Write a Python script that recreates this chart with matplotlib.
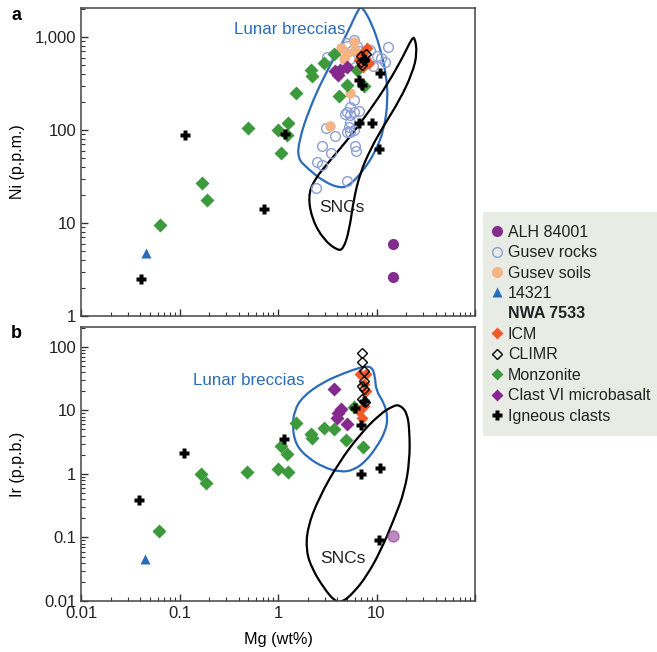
import numpy as np
import matplotlib
matplotlib.use("Agg")
import matplotlib.pyplot as plt
from matplotlib.path import Path
from matplotlib.patches import PathPatch
from matplotlib.lines import Line2D
from matplotlib.ticker import FixedLocator, FixedFormatter, LogLocator, NullFormatter

plt.rcParams['font.family'] = ['Liberation Sans', 'DejaVu Sans']
plt.rcParams['font.size'] = 10

# ---------------- panel a: Ni (p.p.m.) vs Mg (wt%) ----------------
alh_mg_a = [14.8, 14.8]
alh_ni_a = [5.9, 2.6]

rocks_mg_a = [5.9, 5.0, 6.3, 8.6, 10.0, 13.1, 12.2, 9.3, 3.15, 5.4, 5.85, 5.4, 5.0, 5.85, 6.6,
              5.4, 4.8, 5.2, 5.4, 5.0, 3.04, 3.83, 2.81, 3.46, 2.5, 2.81, 2.45, 5.0, 6.07, 6.2,
              5.9, 5.4, 4.5, 7.5, 11.0, 6.8, 4.9]
rocks_ni_a = [930, 800, 800, 720, 630, 787, 543, 490, 615, 575, 210, 178, 157, 157, 162,
              145, 150, 108, 96, 96, 104, 86, 68, 57, 45, 42, 24, 28, 68, 60,
              100, 123, 700, 640, 600, 700, 870]

soils_mg_a = [5.85, 5.0, 5.4, 3.4, 4.7, 6.0, 4.4]
soils_ni_a = [890, 667, 248, 110, 580, 700, 760]

t14321_mg_a = [0.046]
t14321_ni_a = [4.8]

icm_mg_a = [8.0, 7.1, 8.3, 6.6, 7.3, 7.6]
icm_ni_a = [755, 660, 520, 565, 480, 600]

climr_mg_a = [7.0, 7.4, 7.8, 7.2, 6.9]
climr_ni_a = [620, 560, 650, 500, 540]

monz_mg_a = [0.063, 0.168, 0.19, 0.50, 1.0, 1.07, 1.25, 1.23, 1.52, 2.15, 2.23, 2.92, 3.68,
             4.13, 5.0, 7.5, 6.3]
monz_ni_a = [9.5, 27, 17.7, 106, 100, 56, 120, 88, 248, 442, 380, 530, 652,
             232, 305, 295, 440]

clast_mg_a = [3.8, 4.3, 5.0, 4.1]
clast_ni_a = [430, 440, 480, 390]

ign_mg_a = [0.041, 0.115, 0.72, 1.18, 10.8, 6.6, 9.1, 10.7, 6.7, 7.1, 7.4]
ign_ni_a = [2.5, 88, 14, 90, 408, 118, 120, 62, 347, 305, 560]

lunar_mg_a = [7.1, 8.95, 10.8, 12.5, 13.1, 11.9, 9.7, 7.4, 5.4, 4.3, 2.92, 1.99, 1.58, 1.64,
              2.06, 2.92, 4.13, 5.42, 6.56]
lunar_ni_a = [2150, 1403, 787, 407, 210, 100, 58, 37, 25.6, 23.6, 27.8, 38.7, 49.6, 78,
              164, 374, 724, 1290, 2000]

snc_mg_a = [24.4, 25.9, 23.1, 17.2, 11.7, 8.6, 6.8, 5.85, 5.3, 4.6, 3.98, 2.92, 2.23, 2.02,
            2.32, 3.41, 5.42, 8.6, 13.1, 18.6, 22.6]
snc_ni_a = [1008, 667, 407, 210, 109, 61, 34, 17.7, 8.4, 5.2, 5.1, 6.6, 10.8, 19.2,
            29, 47.6, 85, 164, 318, 614, 944]

# ---------------- panel b: Ir (p.p.b.) vs Mg (wt%) ----------------
alh_mg_b = [14.8]
alh_ir_b = [0.106]

t14321_mg_b = [0.045]
t14321_ir_b = [0.045]

icm_mg_b = [6.8, 7.85, 7.4, 7.85, 7.4, 7.1, 6.6]
icm_ir_b = [37, 37, 25.9, 20.3, 11.8, 7.7, 9.8]

climr_mg_b = [7.2, 7.1, 7.4, 7.4, 7.1, 7.5, 7.1, 7.6]
climr_ir_b = [79, 57, 42, 29, 24, 21.5, 15, 13.3]

monz_mg_b = [0.062, 0.166, 0.186, 0.49, 1.0, 1.25, 1.07, 1.23, 1.52, 2.18, 2.23, 2.92, 3.74,
             4.94, 7.3, 5.85]
monz_ir_b = [0.127, 0.99, 0.73, 1.09, 1.18, 1.09, 2.76, 2.04, 6.4, 4.2, 3.65, 5.2, 5.0,
             3.4, 2.66, 11.3]

clast_mg_b = [3.68, 4.4, 3.98, 5.0, 4.1]
clast_ir_b = [21.5, 10.4, 7.7, 6.1, 9.2]

ign_mg_b = [0.039, 0.112, 1.16, 6.07, 6.97, 6.97, 10.8, 10.7, 7.4]
ign_ir_b = [0.39, 2.17, 3.5, 10.8, 5.9, 1.01, 1.23, 0.09, 14.1]

lunar_mg_b = [8.94, 9.66, 9.89, 11.9, 13.1, 12.2, 10.05, 7.84, 5.85, 4.3, 2.92, 1.99, 1.52,
              1.4, 1.46, 1.77, 2.81, 4.82, 7.38]
lunar_ir_b = [48.4, 34.9, 20.3, 13.3, 7.7, 4.5, 2.66, 1.6, 1.14, 1.07, 1.26, 1.81, 2.86,
              5.37, 9.8, 16.3, 27.4, 39.4, 49]

snc_mg_b = [17.2, 20.4, 21.7, 21.7, 19.3, 15.3, 11.0, 7.96, 5.85, 4.47, 3.74, 2.92, 2.23,
            1.93, 1.99, 2.6, 4.13, 6.82, 10.8, 14.8]
snc_ir_b = [12.2, 9.24, 4.75, 1.6, 0.54, 0.205, 0.061, 0.0248, 0.0135, 0.0095, 0.0100, 0.016,
            0.0316, 0.061, 0.143, 0.42, 1.5, 4.22, 8.7, 11.8]

# colours
c_alh = '#842c8c'
c_rock = '#8c9fd6'
c_soil = '#f5b485'
c_blue = '#2b6cb9'
c_icm = '#f05a28'
c_green = '#3d9a3c'
c_clast = '#85298f'


def outline(ax, mg, val, color):
    # closed smooth outline: quadratic curves through the midpoints (in log space)
    p = np.column_stack([mg, val]).astype(float)
    n = len(p)
    mids = [np.sqrt(p[i] * p[(i + 1) % n]) for i in range(n)]
    verts = [mids[-1]]
    codes = [Path.MOVETO]
    for i in range(n):
        verts += [p[i], mids[i]]
        codes += [Path.CURVE3, Path.CURVE3]
    patch = PathPatch(Path(verts, codes), fill=False, edgecolor=color, lw=1.6, zorder=2)
    ax.add_patch(patch)


def style_axes(ax, ymin, ymax, yticks, ylabels):
    ax.set_xscale('log')
    ax.set_yscale('log')
    ax.set_xlim(0.01, 100)
    ax.set_ylim(ymin, ymax)
    ax.yaxis.set_major_locator(FixedLocator(yticks))
    ax.yaxis.set_major_formatter(FixedFormatter(ylabels))
    ax.yaxis.set_minor_locator(LogLocator(base=10, subs=np.arange(2, 10), numticks=20))
    ax.yaxis.set_minor_formatter(NullFormatter())
    ax.xaxis.set_major_locator(FixedLocator([0.01, 0.1, 1, 10, 100]))
    ax.xaxis.set_minor_locator(LogLocator(base=10, subs=np.arange(2, 10), numticks=20))
    ax.xaxis.set_minor_formatter(NullFormatter())
    ax.tick_params(which='both', direction='in', top=False, right=False, colors='#333333',
                   labelcolor='#222222', labelsize=12)
    ax.tick_params(which='major', length=5, width=1)
    ax.tick_params(which='minor', length=3, width=0.8)
    for s in ax.spines.values():
        s.set_color('#444444')
        s.set_linewidth(1.1)


fig = plt.figure(figsize=(6.57, 6.52), dpi=100)
axa = fig.add_axes([81 / 657, 1 - 316 / 652, 394 / 657, 308 / 652])
axb = fig.add_axes([81 / 657, 1 - 601 / 652, 394 / 657, 274 / 652])

# ---- panel a ----
outline(axa, lunar_mg_a, lunar_ni_a, c_blue)
outline(axa, snc_mg_a, snc_ni_a, 'black')
axa.plot(rocks_mg_a, rocks_ni_a, 'o', ms=7, mfc='none', mec=c_rock, mew=1.0, zorder=3)
axa.plot(soils_mg_a, soils_ni_a, 'o', ms=7.5, color=c_soil, mec='none', zorder=3)
axa.plot(monz_mg_a, monz_ni_a, 'D', ms=7, color=c_green, mec='none', zorder=4)
axa.plot(clast_mg_a, clast_ni_a, 'D', ms=7, color=c_clast, mec='none', zorder=4)
axa.plot(icm_mg_a, icm_ni_a, 'D', ms=6, color=c_icm, mec='none', zorder=5)
axa.plot(climr_mg_a, climr_ni_a, 'D', ms=5.5, mfc='none', mec='black', mew=1.0, zorder=6)
axa.plot(alh_mg_a, alh_ni_a, 'o', ms=8, color=c_alh, mec='none', zorder=5)
axa.plot(t14321_mg_a, t14321_ni_a, '^', ms=7.5, color=c_blue, mec='none', zorder=5)
axa.plot(ign_mg_a, ign_ni_a, 'P', ms=7, color='black', mec='none', zorder=7)
style_axes(axa, 1, 2050, [1, 10, 100, 1000], ['1', '10', '100', '1,000'])
axa.tick_params(axis='x', labelbottom=False)
axa.set_ylabel('Ni (p.p.m.)', fontsize=11.5)
axa.yaxis.set_label_coords(-0.143, 0.5)
axa.annotate('SNCs', xy=(4.5, 14.5), ha='center', va='center', fontsize=12.5, color='#222222', zorder=8)
axa.annotate('Lunar breccias', xy=(1.32, 1190), ha='center', va='center', fontsize=12.2,
             color=c_blue, zorder=8)

# ---- panel b ----
outline(axb, lunar_mg_b, lunar_ir_b, c_blue)
outline(axb, snc_mg_b, snc_ir_b, 'black')
axb.plot(monz_mg_b, monz_ir_b, 'D', ms=7, color=c_green, mec='none', zorder=4)
axb.plot(clast_mg_b, clast_ir_b, 'D', ms=7, color=c_clast, mec='none', zorder=4)
axb.plot(icm_mg_b, icm_ir_b, 'D', ms=6.5, color=c_icm, mec='none', zorder=5)
axb.plot(climr_mg_b, climr_ir_b, 'D', ms=5.5, mfc='none', mec='black', mew=1.0, zorder=6)
axb.plot(alh_mg_b, alh_ir_b, 'o', ms=8, color=c_alh, alpha=0.55, mec=c_alh, zorder=5)
axb.plot(t14321_mg_b, t14321_ir_b, '^', ms=7.5, color=c_blue, mec='none', zorder=5)
axb.plot(ign_mg_b, ign_ir_b, 'P', ms=7, color='black', mec='none', zorder=7)
style_axes(axb, 0.01, 205, [0.01, 0.1, 1, 10, 100], ['0.01', '0.1', '1', '10', '100'])
axb.xaxis.set_major_formatter(FixedFormatter(['0.01', '0.1', '1', '10', '']))
axb.set_ylabel('Ir (p.p.b.)', fontsize=11.5)
axb.yaxis.set_label_coords(-0.143, 0.5)
axb.set_xlabel('Mg (wt%)', fontsize=11.7)
axb.xaxis.set_label_coords(0.5, -0.113)
axb.annotate('Lunar breccias', xy=(0.51, 29), ha='center', va='center', fontsize=12.2,
             color=c_blue, zorder=8)
axb.annotate('SNCs', xy=(4.6, 0.047), ha='center', va='center', fontsize=12.5, color='#222222', zorder=8)

# panel letters
fig.text(16 / 657, 1 - 15 / 652, 'a', fontsize=13, fontweight='bold', va='center', ha='center')
fig.text(16 / 657, 1 - 333 / 652, 'b', fontsize=13, fontweight='bold', va='center', ha='center')

# legend
handles = [
    Line2D([], [], ls='none', marker='o', ms=8, color=c_alh, mec='none', label='ALH 84001'),
    Line2D([], [], ls='none', marker='o', ms=7, mfc='none', mec=c_rock, label='Gusev rocks'),
    Line2D([], [], ls='none', marker='o', ms=8, color=c_soil, mec='none', label='Gusev soils'),
    Line2D([], [], ls='none', marker='^', ms=7.5, color=c_blue, mec='none', label='14321'),
    Line2D([], [], ls='none', marker=None, label='NWA 7533'),
    Line2D([], [], ls='none', marker='D', ms=6, color=c_icm, mec='none', label='ICM'),
    Line2D([], [], ls='none', marker='D', ms=5.5, mfc='none', mec='black', label='CLIMR'),
    Line2D([], [], ls='none', marker='D', ms=6, color=c_green, mec='none', label='Monzonite'),
    Line2D([], [], ls='none', marker='D', ms=6, color=c_clast, mec='none', label='Clast VI microbasalt'),
    Line2D([], [], ls='none', marker='P', ms=7, color='black', mec='none', label='Igneous clasts'),
]
leg = fig.legend(handles=handles, loc='upper left',
                 bbox_to_anchor=(483 / 657, 1 - 212 / 652 - 0.01, 174 / 657, 0.01), mode='expand',
                 fontsize=11.5, frameon=True, fancybox=False, framealpha=1,
                 facecolor='#e9ece4', edgecolor='none', handlelength=0.15, handletextpad=0.61,
                 labelspacing=0.34, borderpad=0.8, borderaxespad=0)
leg.get_texts()[4].set_fontweight('bold')
for t in leg.get_texts():
    t.set_color('#222222')

fig.savefig('out.png', dpi=100)
